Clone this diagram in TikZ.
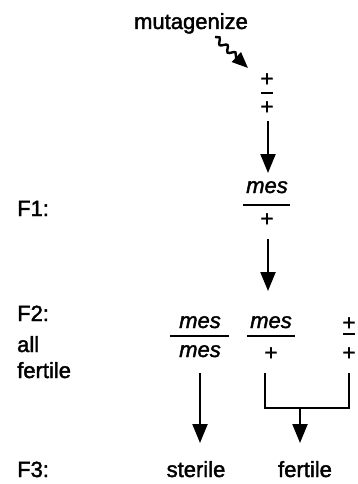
\documentclass[tikz,border=0pt]{standalone}
\usepackage{fontspec}
\setmainfont{Liberation Sans}[FakeBold=1.8]
\usetikzlibrary{arrows.meta,decorations.pathmorphing}
\begin{document}
\begin{tikzpicture}[x=1pt,y=-1pt,
  txt/.style={inner sep=0pt, anchor=base, font=\fontsize{22}{26}\selectfont},
  ltxt/.style={txt, anchor=base west},
  arr/.style={line width=2.2pt, -{Triangle[length=19pt,width=15pt]}},
  fracbar/.style={line width=2.2pt},
  brk/.style={line width=2.6pt},
]
\useasboundingbox (0,0) rectangle (358,484);
% top
\node[txt] (mut) at (191,29) {mutagenize};
\coordinate (s1) at (215,37);
\coordinate (s2) at (248,68);
\draw[line width=2.4pt, -{Triangle[length=16pt,width=13pt]}, decorate,
  decoration={snake, amplitude=2.8pt, segment length=11pt, post length=14pt}] (s1) -- (s2);
\node[txt] (p0a) at (267,86) {+};
\node[txt] (p0b) at (267,114) {+};
\draw[fracbar, line width=2.8pt] (261,93) -- (273,93);
\coordinate (a1s) at (268,121);
\coordinate (a1e) at (268,173);
\draw[arr] (a1s) -- (a1e);
% F1
\node[ltxt] (F1) at (17,216) {F1:};
\node[txt] (m1) at (267,193) {\textit{mes}};
\draw[fracbar] (243,205) -- (290,205);
\node[txt] (p1) at (267,226) {+};
\coordinate (a2s) at (268,239);
\coordinate (a2e) at (268,291);
\draw[arr] (a2s) -- (a2e);
% F2
\node[ltxt] (F2) at (17,321) {F2:};
\node[ltxt] (all) at (17,352) {all};
\node[ltxt] (fert) at (17,378) {fertile};
\node[txt] (mm1) at (200,328) {\textit{mes}};
\draw[fracbar] (170,336) -- (229,336);
\node[txt] (mm2) at (200,357) {\textit{mes}};
\node[txt] (mp1) at (271,328) {\textit{mes}};
\draw[fracbar] (247,336) -- (295,336);
\node[txt] (mp2) at (271,360) {+};
\node[txt] (pp1) at (349,330) {+};
\draw[fracbar] (343,334) -- (355,334);
\node[txt] (pp2) at (349,360) {+};
% arrows to F3
\coordinate (l1) at (200,373);
\coordinate (l2) at (200,443);
\draw[arr] (l1) -- (l2);
\coordinate (b1) at (265,373);
\coordinate (b2) at (265,408);
\coordinate (b3) at (349,408);
\coordinate (b4) at (349,373);
\draw[brk] (b1) -- (b2) -- (b3) -- (b4);
\coordinate (bm) at (300,408);
\coordinate (be) at (300,443);
\draw[arr] (bm) -- (be);
% F3
\node[ltxt] (F3) at (17,477) {F3:};
\node[txt] (ster) at (196,477) {sterile};
\node[txt] (fer) at (305,477) {fertile};
\end{tikzpicture}
\end{document}
